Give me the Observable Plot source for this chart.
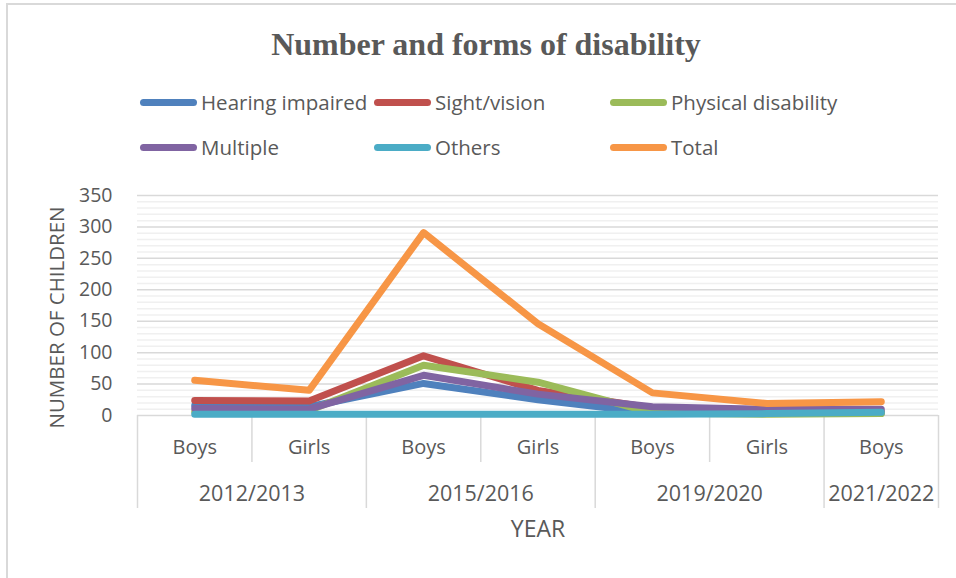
<!DOCTYPE html>
<html>
<head>
<meta charset="utf-8">
<script src="https://cdn.jsdelivr.net/npm/d3@7"></script>
<script src="https://cdn.jsdelivr.net/npm/@observablehq/plot@0.6"></script>
<style>
  html, body { margin: 0; padding: 0; background: #fff; }
  #wrap { position: relative; width: 956px; height: 578px; overflow: hidden; background: #fff; font-family: "Open Sans", sans-serif; color: #595959; }
  #frameL { position: absolute; left: 6px; top: 3px; width: 1.5px; height: 600px; background: #d9d9d9; }
  #frameT { position: absolute; left: 6px; top: 3px; width: 960px; height: 1.5px; background: #d9d9d9; }
  #title { position: absolute; left: 0; width: 972px; top: 24px; text-align: center; font-family: "Liberation Serif", "Times New Roman", serif; font-weight: bold; font-size: 32px; color: #595959; line-height: 40px; }
  .leg { position: absolute; height: 28px; display: flex; align-items: center; font-size: 20.5px; white-space: nowrap; }
  .sw { width: 57px; height: 7px; border-radius: 4px; margin-right: 4px; }
  #chart { position: absolute; left: 0; top: 180px; }
</style>
</head>
<body>
<div id="wrap">
  <div id="frameL"></div><div id="frameT"></div>
  <div id="title">Number and forms of disability</div>
  <div id="legend"></div>
  <div id="chart"></div>
</div>
<script>
// categories
const years = ["2012/2013", "2012/2013", "2015/2016", "2015/2016", "2019/2020", "2019/2020", "2021/2022"];
const sexes = ["Boys", "Girls", "Boys", "Girls", "Boys", "Girls", "Boys"];

// series values
const hearingImpaired = [16, 14, 51, 25, 4, 3, 4];
const sightVision = [24, 23, 95, 40, 12, 8, 6];
const physicalDisability = [6, 8, 80, 53, 4, 2, 3];
const multiple = [11, 10, 64, 34, 14, 10, 10];
const others = [2, 2, 2, 2, 2, 3, 5];
const total = [56, 40, 291, 146, 36, 19, 22];

const seriesNames = ["Hearing impaired", "Sight/vision", "Physical disability", "Multiple", "Others", "Total"];
const seriesColors = ["#4F81BD", "#C0504D", "#9BBB59", "#8064A2", "#4BACC6", "#F79646"];
const seriesValues = [hearingImpaired, sightVision, physicalDisability, multiple, others, total];

// y ticks
const majorTicks = [0, 50, 100, 150, 200, 250, 300, 350];
const minorTicks = d3.range(0, 351, 10).filter(v => v % 50 !== 0);

// legend
const legendPos = [[140, 88], [374, 88], [610, 88], [140, 133], [374, 133], [610, 133]];
const legend = document.getElementById("legend");
seriesNames.forEach((name, k) => {
  const el = document.createElement("div");
  el.className = "leg";
  el.style.left = legendPos[k][0] + "px";
  el.style.top = legendPos[k][1] + "px";
  el.innerHTML = `<div class="sw" style="background:${seriesColors[k]}"></div><span>${name}</span>`;
  legend.appendChild(el);
});

// table
const rows = [];
seriesNames.forEach((name, k) => {
  seriesValues[k].forEach((v, i) => rows.push({series: name, i, value: v}));
});

const centers = years.map((_, i) => i + 0.5);
const innerBounds = [];
const outerBounds = [0];
for (let i = 1; i < years.length; i++) {
  if (years[i] === years[i - 1]) innerBounds.push(i); else outerBounds.push(i);
}
outerBounds.push(years.length);
const yearGroups = d3.groups(years.map((y, i) => ({y, i})), d => d.y);
const yearCenters = yearGroups.map(([, g]) => (g[0].i + g[g.length - 1].i + 1) / 2);
const yearLabels = yearGroups.map(([y]) => y);

const chart = Plot.plot({
  width: 956,
  height: 398,
  marginLeft: 137,
  marginRight: 18,
  marginTop: 15,
  marginBottom: 163,
  x: {domain: [0, years.length], axis: null},
  y: {domain: [0, 350], axis: null},
  color: {domain: seriesNames, range: seriesColors},
  style: {fontFamily: "Open Sans, sans-serif", fontSize: "20px", color: "#595959", background: "transparent", overflow: "visible"},
  marks: [
    Plot.ruleY(minorTicks, {stroke: "#f0f0f0", strokeWidth: 1.5}),
    Plot.ruleY(majorTicks, {stroke: "#d9d9d9", strokeWidth: 1.5}),
    Plot.axisY({ticks: majorTicks, tickSize: 0, tickPadding: 25, fontSize: 19.5, fill: "#595959", label: null}),
    Plot.axisX({ticks: innerBounds, tickSize: 47, tickFormat: () => "", stroke: "#d9d9d9", strokeWidth: 1.5, label: null}),
    Plot.axisX({ticks: outerBounds, tickSize: 93, tickFormat: () => "", stroke: "#d9d9d9", strokeWidth: 1.5, label: null}),
    Plot.axisX({ticks: centers, tickSize: 0, tickPadding: 24, tickFormat: d => sexes[Math.floor(d)], fontSize: 20, fill: "#595959", label: null}),
    Plot.axisX({ticks: yearCenters, tickSize: 0, tickPadding: 70, tickFormat: d => yearLabels[yearCenters.indexOf(d)], fontSize: 21.5, fill: "#595959", label: null}),
    Plot.line(rows, {x: d => d.i + 0.5, y: "value", z: "series", stroke: "series", strokeWidth: 7, strokeLinecap: "round", strokeLinejoin: "round"}),
    Plot.text(["YEAR"], {frameAnchor: "bottom", dy: 114, lineAnchor: "middle", fontSize: 23, fill: "#595959"}),
    Plot.text(["NUMBER OF CHILDREN"], {frameAnchor: "left", dx: -80, dy: 12, rotate: -90, fontSize: 20.5, fill: "#595959", textAnchor: "middle"})
  ]
});
document.getElementById("chart").appendChild(chart);
</script>
</body>
</html>
